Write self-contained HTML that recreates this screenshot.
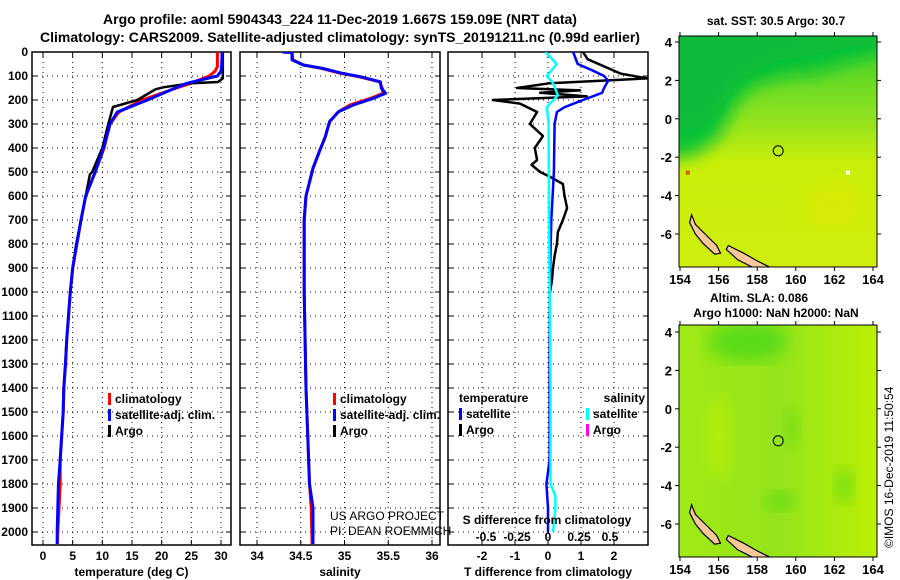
<!DOCTYPE html>
<html><head><meta charset="utf-8">
<style>
html,body{margin:0;padding:0;background:#fff;}
svg{display:block;font-family:"Liberation Sans",sans-serif;}
.t{font-weight:bold;font-size:12px;fill:#000;}
.ttl{font-weight:bold;font-size:14px;fill:#000;}
.lg{font-weight:bold;font-size:12px;fill:#000;}
.grid{stroke:#000;stroke-width:1;stroke-dasharray:1 4;}
</style></head>
<body>
<svg id="c" width="900" height="580" viewBox="0 0 900 580" xmlns="http://www.w3.org/2000/svg">
<defs>
<linearGradient id="sstg" x1="0" y1="0" x2="0" y2="1">
<stop offset="0" stop-color="#3cd028"/><stop offset="0.35" stop-color="#8ee220"/>
<stop offset="0.55" stop-color="#c8ee08"/><stop offset="1" stop-color="#d0ee0c"/>
</linearGradient>
<linearGradient id="slag" x1="0" y1="0" x2="1" y2="0">
<stop offset="0" stop-color="#a0ea14"/><stop offset="0.5" stop-color="#94e41c"/><stop offset="1" stop-color="#bcee04"/>
</linearGradient>
<filter id="blur"><feGaussianBlur stdDeviation="8"/></filter>
</defs>
<text class="ttl" x="340" y="24" text-anchor="middle">Argo profile: aoml 5904343_224 11-Dec-2019 1.667S 159.09E (NRT data)</text>
<text class="ttl" x="340" y="42" text-anchor="middle">Climatology: CARS2009. Satellite-adjusted climatology: synTS_20191211.nc (0.99d earlier)</text>
<g id="panels"></g>
<g id="maps"></g>
<text class="t" x="0" y="0" transform="translate(893,548) rotate(-90)" style="font-weight:normal;font-size:12px">©IMOS 16-Dec-2019 11:50:54</text>
</svg>
<script>
// ---- data ----
const tempDepth = [0,60,80,100,130,150,200,250,300,400,500,600,700,800,900,1000,1100,1200,1300,1400,1500,1700,1800,2000,2050];
const tempClim  = [29.4,29.4,29.0,28.0,25.0,22.5,16.7,12.8,11.3,10.3,8.8,7.2,6.4,5.7,5.0,4.6,4.3,4.0,3.8,3.5,3.4,2.9,2.9,2.5,2.4];
const tempSat   = [30.2,30.1,30.0,29.4,24.3,22.3,17.6,12.5,11.3,10.2,8.8,7.2,6.4,5.7,5.0,4.6,4.3,4.0,3.8,3.5,3.4,2.9,2.6,2.4,2.4];
const argoDepth = [0,110,125,130,147,155,200,229,300,350,400,500,510,600,700,800,900,1000];
const tempArgo  = [30.3,30.3,29.5,25,20.3,19.0,15.9,11.8,11.0,10.5,10.0,8.3,7.9,7.2,6.4,5.6,5.0,4.6];
const salDepth  = [0,2,33,54,68,89,103,124,150,172,193,221,249,290,353,408,484,600,700,1000,1400,1800,1900,2050];
const salClim   = [34.29,34.4,34.41,34.53,34.73,34.96,35.16,35.4,35.43,35.44,35.3,35.06,34.93,34.83,34.78,34.72,34.64,34.56,34.54,34.54,34.56,34.6,34.62,34.63];
const salSat    = [34.29,34.4,34.4,34.53,34.75,34.98,35.18,35.41,35.42,35.47,35.33,35.1,34.93,34.83,34.78,34.72,34.64,34.56,34.54,34.54,34.56,34.6,34.64,34.64];
const dDepth    = [0,50,80,100,120,150,170,200,230,250,300,500,700,1000,1700,1800,1900,2000];
const tDiffSat  = [0.76,0.9,1.4,1.7,1.82,1.7,1.64,1.06,0.5,0.27,0.2,0.18,0.1,0.05,0.05,-0.05,0,0];
const argoDDepth= [0,30,90,110,130,150,160,170,185,200,215,250,300,350,400,450,470,500,520,550,600,650,700,750,800,850,900,950,1000];
const tDiffArgo = [1.06,1.2,2.2,3.0,0.06,-0.94,0.97,-0.24,1.18,-1.67,-0.85,-0.33,-0.55,-0.15,-0.4,-0.33,-0.5,-0.24,0.06,0.45,0.5,0.58,0.45,0.3,0.27,0.2,0.15,0.12,0.06];
const sDiffDepth= [0,50,100,130,180,230,300,800,1400,1800,1850,1900,2000];
const sDiffSat  = [-0.02,0.07,-0.01,0.04,0.08,-0.01,0.005,0.01,0.02,0.02,0.06,0.06,0.04];
const depthTicks= [0,100,200,300,400,500,600,700,800,900,1000,1100,1200,1300,1400,1500,1600,1700,1800,1900,2000];
const tempTicks = [0,5,10,15,20,25,30];
const salTicks  = [34,34.5,35,35.5,36];
const salTickLabels = ['34','34.5','35','35.5','36'];
const tdTicks   = [-2,-1,0,1,2];
const sdTicks   = [-0.5,-0.25,0,0.25,0.5];
const sdTickLabels = ['-0.5','-0.25','0','0.25','0.5'];
const lonTicks  = [154,156,158,160,162,164];
const latTicks  = [4,2,0,-2,-4,-6];

const NS='http://www.w3.org/2000/svg';
function mk(tag,attrs,parent,txt){const e=document.createElementNS(NS,tag);for(const k in attrs)e.setAttribute(k,attrs[k]);if(txt!==undefined)e.textContent=txt;parent.appendChild(e);return e;}
const TOP=52, BOT=545;
const yD = d => TOP + d*0.24;
function lin(d0,d1,r0,r1){return v=>r0+(v-d0)*(r1-r0)/(d1-d0);}
const P = document.getElementById('panels');

function panel(name,x0,x1,xs,ticks,labels,xlabel,showY){
  const g=mk('g',{},P);
  
  
  const cp=mk('clipPath',{id:'clip-'+name},g); mk('rect',{x:x0,y:TOP,width:x1-x0,height:BOT-TOP},cp);
  depthTicks.forEach(d=>{
    mk('line',{x1:x0,x2:x1,y1:yD(d),y2:yD(d),class:'grid'},g);
    mk('line',{x1:x0,x2:x0+5,y1:yD(d),y2:yD(d),stroke:'#000'},g);
    mk('line',{x1:x1-5,x2:x1,y1:yD(d),y2:yD(d),stroke:'#000'},g);
    if(showY){const t=mk('text',{x:x0-4,y:yD(d)+4,'text-anchor':'end',class:'t'},g,String(d));
      
      }
  });
  ticks.forEach((v,i)=>{
    const x=xs(v);
    mk('line',{x1:x,x2:x,y1:TOP,y2:BOT,class:'grid'},g);
    mk('line',{x1:x,x2:x,y1:BOT-5,y2:BOT,stroke:'#000'},g);
    mk('line',{x1:x,x2:x,y1:TOP,y2:TOP+5,stroke:'#000'},g);
    const t=mk('text',{x:x,y:560,'text-anchor':'middle',class:'t'},g,labels[i]);
    
    
  });
  mk('rect',{x:x0,y:TOP,width:x1-x0,height:BOT-TOP,fill:'none',stroke:'#000','stroke-width':1.5},g);
  const xl=mk('text',{x:(x0+x1)/2,y:576,'text-anchor':'middle',class:'t'},g,xlabel);
  
  
  return g;
}
function line(g,name,xs,vals,depths,color,w){
  const pts=vals.map((v,i)=>xs(v).toFixed(1)+','+yD(depths[i]).toFixed(1)).join(' ');
  const clip=g.querySelector('clipPath').id;
  const e=mk('polyline',{points:pts,fill:'none',stroke:color,'stroke-width':w,'clip-path':'url(#'+clip+')','stroke-linejoin':'round'},g);
  
  
}
function legend(g,x,y,items){
  items.forEach((it,i)=>{
    const yy=y+i*16;
    mk('rect',{x:x,y:yy-10,width:3,height:12,fill:it[1]},g);
    const t=mk('text',{x:x+7,y:yy,class:'lg'},g,it[0]);
    
    
  });
}
// Panel 1 temperature
const xT=lin(0,30,43,221);
const g1=panel('temperature-panel',32,231,xT,tempTicks,tempTicks.map(String),'temperature (deg C)',true);
line(g1,'temp-climatology-line',xT,tempClim,tempDepth,'#f00',3);
line(g1,'temp-argo-line',xT,tempArgo,argoDepth,'#000',2.5);
line(g1,'temp-satellite-line',xT,tempSat,tempDepth,'#00f',3);
legend(g1,108,403,[['climatology','#f00'],['satellite-adj. clim.','#00f'],['Argo','#000']]);
// Panel 2 salinity
const xS=lin(34,36,257,432);
const g2=panel('salinity-panel',240,440,xS,salTicks,salTickLabels,'salinity',false);
line(g2,'sal-climatology-line',xS,salClim,salDepth,'#f00',3);
line(g2,'sal-satellite-line',xS,salSat,salDepth,'#00f',3);
legend(g2,333,403,[['climatology','#f00'],['satellite-adj. clim.','#00f'],['Argo','#000']]);
const pr=mk('text',{x:330,y:552,style:'font-size:12px'},g2,'');
mk('tspan',{x:330,y:520},pr,'US ARGO PROJECT');
mk('tspan',{x:330,y:535},pr,'PI: DEAN ROEMMICH');


// Panel 3 differences
const xTD=lin(0,2,548,614);
const xSD=lin(0,0.5,548,610);
const g3=panel('difference-panel',448,648,xTD,tdTicks,tdTicks.map(String),'T difference from climatology',false);
line(g3,'tdiff-argo-line',xTD,tDiffArgo,argoDDepth,'#000',2.5);
line(g3,'tdiff-satellite-line',xTD,tDiffSat,dDepth,'#00f',2.5);
line(g3,'sdiff-satellite-line',xSD,sDiffSat,sDiffDepth,'#0ff',2.5);
const lt=mk('text',{x:459,y:402,class:'lg'},g3,'temperature');


const ls=mk('text',{x:645,y:402,class:'lg','text-anchor':'end'},g3,'salinity');


legend(g3,459,418,[['satellite','#00f'],['Argo','#000']]);
legend(g3,586,418,[['satellite','#0ff'],['Argo','#f0f']]);
const sdt=mk('text',{x:547,y:524,'text-anchor':'middle',class:'t'},g3,'S difference from climatology');


sdTicks.forEach((v,i)=>{
  const t=mk('text',{x:xSD(v),y:541,'text-anchor':'middle',class:'t'},g3,sdTickLabels[i]);
  
  
});

// ---- maps ----
const M=document.getElementById('maps');
function map(name,top,bot,lat4y,fill,titles){
  const g=mk('g',{},M);
  
  
  const L=679,R=877;
  const xl=lin(154,164,680,873), yl=lin(4,-6,lat4y,lat4y+192);
  const cid='clip-'+name;
  const cp=mk('clipPath',{id:cid},g); mk('rect',{x:L,y:top,width:R-L,height:bot-top},cp);
  const inner=mk('g',{'clip-path':'url(#'+cid+')'},g);
  mk('rect',{x:L,y:top,width:R-L,height:bot-top,fill:fill},inner);
  const pg=p=>p.map(q=>xl(q[0]).toFixed(1)+','+yl(q[1]).toFixed(1)).join(' ');
  if(name==='sst-map'){
    mk('polygon',{points:pg([[153,5],[165,5],[165,3.5],[163,3],[161,2.3],[159.5,2.2],[158,1.8],[157,1],[156.5,0],[156,-1],[155.3,-1.5],[154.5,-2],[153,-2]]),fill:'#10c436',filter:'url(#blur)'},inner);
    mk('polygon',{points:pg([[153,5],[165,5],[165,4],[162,3.6],[159,3],[157,2],[156,0.5],[155,-0.5],[153,-0.5]]),fill:'#08bc3a',filter:'url(#blur)'},inner);
    mk('ellipse',{cx:xl(162),cy:yl(-4.5),rx:30,ry:25,fill:'#e0e800',opacity:0.5,filter:'url(#blur)'},inner);
    mk('rect',{x:xl(162.6),y:yl(-2.7),width:4,height:4,fill:'#fff'},inner);
    mk('rect',{x:xl(154.3),y:yl(-2.7),width:4,height:4,fill:'#d06010'},inner);
  } else {
    mk('ellipse',{cx:xl(157.5),cy:yl(3.5),rx:40,ry:20,fill:'#30d414',opacity:0.6,filter:'url(#blur)'},inner);
    mk('ellipse',{cx:xl(159.2),cy:yl(-4.8),rx:16,ry:10,fill:'#58d818',opacity:0.7,filter:'url(#blur)'},inner);
    mk('ellipse',{cx:xl(159.8),cy:yl(-1),rx:8,ry:20,fill:'#60d818',opacity:0.6,filter:'url(#blur)'},inner);
    mk('ellipse',{cx:xl(156),cy:yl(-1.5),rx:14,ry:40,fill:'#c8f000',opacity:0.5,filter:'url(#blur)'},inner);
    mk('ellipse',{cx:xl(162.5),cy:yl(-4),rx:10,ry:18,fill:'#58d818',opacity:0.6,filter:'url(#blur)'},inner);
  }
  const isl1=[[154.6,-5.0],[154.8,-5.5],[155.3,-6.0],[155.9,-6.6],[156.1,-7.0],[155.8,-7.05],[155.2,-6.5],[154.8,-6.0],[154.5,-5.4]];
  const isl2=[[156.5,-6.6],[157.3,-7.0],[158,-7.4],[158.7,-7.75],[157.8,-7.75],[157,-7.35],[156.4,-6.8]];
  [isl1,isl2].forEach(p=>mk('polygon',{points:pg(p),fill:'#f8c898',stroke:'#000','stroke-width':1.2},inner));
  mk('circle',{cx:xl(159.09),cy:yl(-1.667),r:5,fill:'none',stroke:'#000','stroke-width':1},g);
  mk('rect',{x:L,y:top,width:R-L,height:bot-top,fill:'none',stroke:'#000','stroke-width':1},g);
  lonTicks.forEach(v=>{
    mk('line',{x1:xl(v),x2:xl(v),y1:bot,y2:bot+4,stroke:'#000'},g);
    mk('line',{x1:xl(v),x2:xl(v),y1:top-4,y2:top,stroke:'#000'},g);
    const t=mk('text',{x:xl(v),y:bot+17,'text-anchor':'middle',class:'t',style:'font-size:13px'},g,String(v));
    
    
  });
  latTicks.forEach(v=>{
    mk('line',{x1:L-4,x2:L,y1:yl(v),y2:yl(v),stroke:'#000'},g);
    mk('line',{x1:R,x2:R+4,y1:yl(v),y2:yl(v),stroke:'#000'},g);
    const t=mk('text',{x:L-7,y:yl(v)+5,'text-anchor':'end',class:'t',style:'font-size:13px'},g,String(v));
    
    
  });
  titles.forEach(tt=>{
    const t=mk('text',{x:tt[0],y:tt[1],'text-anchor':'middle',class:'t'},g,tt[2]);
    
    
  });
}
map('sst-map',36,267,42,'url(#sstg)',[[776,25,'sat. SST: 30.5 Argo: 30.7']]);
map('sla-map',325,557,332,'url(#slag)',[[759,302,'Altim. SLA: 0.086'],[776,317,'Argo h1000: NaN h2000: NaN']]);
</script>
</body></html>
